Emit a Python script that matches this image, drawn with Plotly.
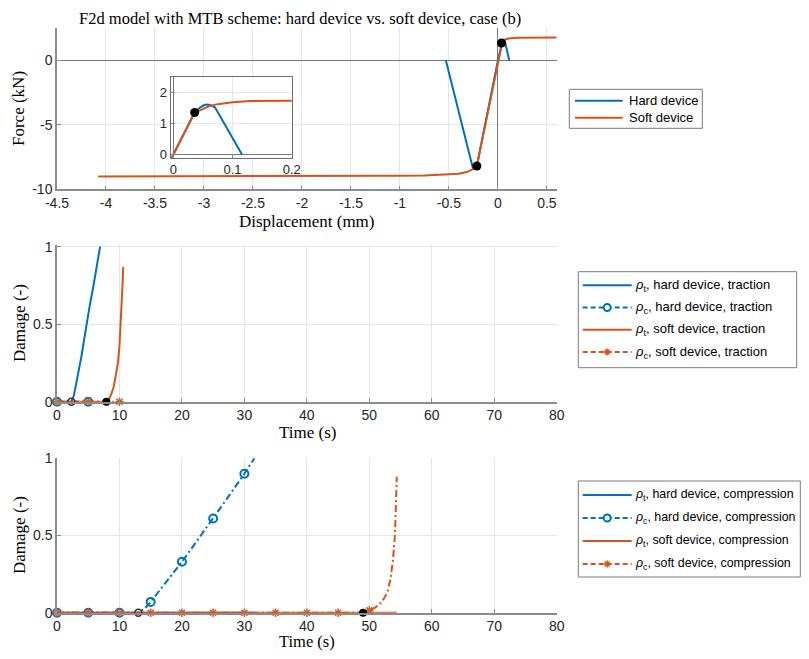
import plotly.graph_objects as go

# the page body has an 8px margin on every side: size the figure to fit inside it
OFF = 8
W, H = 809 - 2 * OFF, 659 - 2 * OFF
def px(x): return (x - OFF) / W
def py(y): return 1 - (y - OFF) / H

BLUE = '#0072BD'
ORANGE = '#D95319'
TXT = '#262626'
AX = '#8c8c8c'
GRID = '#e6e6e6'
SANS = 'Liberation Sans, Arial, sans-serif'
SERIF = 'Liberation Serif, Times New Roman, serif'
DASH = '7px,3px,2px,3px'

# ---------------- data: force vs displacement ----------------
disp_hard = [-0.531, -0.255, -0.24, -0.215, 0.0, 0.036, 0.045, 0.052, 0.058, 0.064, 0.0705, 0.116]
force_hard = [0.0, -8.37, -8.35, -8.19, 0.0, 1.36, 1.52, 1.60, 1.62, 1.59, 1.52, 0.0]

disp_soft = [-4.08, -3.0, -2.0, -1.5, -1.0, -0.75, -0.5, -0.4, -0.317, -0.28, -0.25, -0.215,
             0.0, 0.036, 0.045, 0.05, 0.06, 0.075, 0.1, 0.13, 0.2, 0.6]
force_soft = [-9.0, -9.0, -8.99, -8.98, -8.95, -8.92, -8.87, -8.8, -8.66, -8.55, -8.42, -8.19,
              0.0, 1.36, 1.43, 1.48, 1.56, 1.63, 1.69, 1.73, 1.76, 1.78]

onset_disp = [0.036, -0.215]
onset_force = [1.36, -8.19]

# ---------------- data: damage, traction ----------------
t_hard_tr = [0, 2.3, 2.7, 3.1, 3.5, 3.9, 4.3, 4.7, 5.2, 5.8, 6.3, 6.9]
rho_t_hard_tr = [0, 0, 0.04, 0.12, 0.2, 0.29, 0.39, 0.5, 0.61, 0.74, 0.86, 1.0]
tc_hard_tr = [0, 5, 6.9]
rho_c_hard_tr = [0, 0, 0]
t_soft_tr = [0, 7.9, 8.3, 8.7, 9.1, 9.4, 9.76, 10.0, 10.2, 10.4, 10.5, 10.6]
rho_t_soft_tr = [0, 0, 0.015, 0.05, 0.1, 0.16, 0.25, 0.36, 0.5, 0.65, 0.76, 0.87]
tc_soft_tr = [0, 5, 10, 10.6]
rho_c_soft_tr = [0, 0, 0, 0]
onset_hard_tr = (2.3, 0)
onset_soft_tr = (7.9, 0)

# ---------------- data: damage, compression ----------------
tt_hard_co = [0, 31.6]
rho_t_hard_co = [0, 0]
tc_hard_co = [0, 5, 10, 13, 14, 15, 17.5, 20, 22.5, 25, 27.5, 30, 31.6]
rho_c_hard_co = [0, 0, 0, 0, 0.025, 0.07, 0.2, 0.33, 0.47, 0.61, 0.755, 0.9, 1.0]
tt_soft_co = [0, 54.4]
rho_t_soft_co = [0, 0]
tc_soft_co = [0, 5, 10, 15, 20, 25, 30, 35, 40, 45, 49, 50, 51, 52, 52.9, 53.4, 53.8, 54.1, 54.3, 54.4]
rho_c_soft_co = [0, 0, 0, 0, 0, 0, 0, 0, 0, 0, 0, 0.015, 0.035, 0.07, 0.13, 0.22, 0.35, 0.5, 0.7, 0.88]
onset_hard_co = (13, 0)
onset_soft_co = (49, 0)

marker_times_hard = [0, 5, 10, 15, 20, 25, 30]
marker_times_soft = [0, 5, 10, 15, 20, 25, 30, 35, 40, 45, 50]

fig = go.Figure()

def line(x, y, color, xa, ya, dash='solid'):
    fig.add_trace(go.Scatter(x=x, y=y, mode='lines', xaxis=xa, yaxis=ya, showlegend=False,
                             line=dict(color=color, width=2, dash=dash), hoverinfo='skip'))

def marks(x, y, times, color, symbol, size, lw, xa, ya):
    sel = [i for i, t in enumerate(x) if t in times]
    fig.add_trace(go.Scatter(x=[x[i] for i in sel], y=[y[i] for i in sel], mode='markers',
                             xaxis=xa, yaxis=ya, showlegend=False, cliponaxis=False, hoverinfo='skip',
                             marker=dict(symbol=symbol, size=size, color=color, line=dict(color=color, width=lw))))

def onset(pt, filled, xa, ya):
    if filled:
        m = dict(symbol='circle', size=8, color='black', line=dict(width=0))
    else:
        m = dict(symbol='circle-open', size=7, color='#303030', line=dict(color='#303030', width=1.5))
    fig.add_trace(go.Scatter(x=[pt[0]], y=[pt[1]], mode='markers', xaxis=xa, yaxis=ya,
                             showlegend=False, cliponaxis=False, marker=m, hoverinfo='skip'))

# top plot and inset
for xa, ya in (('x', 'y'), ('x4', 'y4')):
    line(disp_hard, force_hard, BLUE, xa, ya)
    line(disp_soft, force_soft, ORANGE, xa, ya)
    fig.add_trace(go.Scatter(x=onset_disp, y=onset_force, mode='markers', xaxis=xa, yaxis=ya,
                             showlegend=False, hoverinfo='skip',
                             marker=dict(symbol='circle', size=9, color='black')))

# middle plot (traction)
line(t_hard_tr, rho_t_hard_tr, BLUE, 'x2', 'y2')
line(tc_hard_tr, rho_c_hard_tr, BLUE, 'x2', 'y2', DASH)
marks(tc_hard_tr, rho_c_hard_tr, marker_times_hard, BLUE, 'circle-open', 8, 2, 'x2', 'y2')
line(t_soft_tr, rho_t_soft_tr, ORANGE, 'x2', 'y2')
line(tc_soft_tr, rho_c_soft_tr, ORANGE, 'x2', 'y2', DASH)
marks(tc_soft_tr, rho_c_soft_tr, marker_times_soft, ORANGE, 'asterisk-open', 7, 1.5, 'x2', 'y2')
onset(onset_hard_tr, False, 'x2', 'y2')
onset(onset_soft_tr, True, 'x2', 'y2')

# bottom plot (compression)
line(tt_hard_co, rho_t_hard_co, BLUE, 'x3', 'y3')
line(tc_hard_co, rho_c_hard_co, BLUE, 'x3', 'y3', DASH)
marks(tc_hard_co, rho_c_hard_co, marker_times_hard, BLUE, 'circle-open', 8, 2, 'x3', 'y3')
line(tt_soft_co, rho_t_soft_co, ORANGE, 'x3', 'y3')
line(tc_soft_co, rho_c_soft_co, ORANGE, 'x3', 'y3', DASH)
marks(tc_soft_co, rho_c_soft_co, marker_times_soft, ORANGE, 'asterisk-open', 7, 1.5, 'x3', 'y3')
onset(onset_hard_co, False, 'x3', 'y3')
onset(onset_soft_co, True, 'x3', 'y3')

tickfont = dict(family=SANS, size=14, color=TXT)
common = dict(showline=True, linecolor=AX, linewidth=1.5, showgrid=True, gridcolor=GRID, gridwidth=1,
              ticks='inside', ticklen=4, tickcolor=AX, tickfont=tickfont, fixedrange=True,
              automargin=False)
inset_common = {**common, 'tickfont': dict(family=SANS, size=13, color=TXT), 'linecolor': '#6e6e6e',
                'linewidth': 1}

X0, X1 = px(57), px(556.7)
xt_top = [-4.5, -4, -3.5, -3, -2.5, -2, -1.5, -1, -0.5, 0, 0.5]
yt_top = [-10, -5, 0]
xt_time = [0, 10, 20, 30, 40, 50, 60, 70, 80]
yt_dmg = [0, 0.5, 1]

fig.update_layout(
    template='none',
    width=W, height=H, autosize=False, margin=dict(l=0, r=0, t=0, b=0, pad=0),
    showlegend=False,
    paper_bgcolor='white', plot_bgcolor='rgb(255,255,255)',
    xaxis=dict(domain=[X0, X1], range=[-4.5, 0.6], anchor='y', tickvals=xt_top,
               ticktext=[('%g' % v) for v in xt_top], zeroline=True, zerolinecolor='#7a7a7a',
               zerolinewidth=1, **common),
    yaxis=dict(domain=[py(189.3), py(28.3)], range=[-10, 2.5], anchor='x', tickvals=yt_top,
               ticktext=[('%g' % v) for v in yt_top], zeroline=True, zerolinecolor='#7a7a7a',
               zerolinewidth=1, **common),
    xaxis2=dict(domain=[X0, X1], range=[0, 80], anchor='y2', tickvals=xt_time,
                ticktext=[str(v) for v in xt_time], zeroline=False, **common),
    yaxis2=dict(domain=[py(401.7), py(245)], range=[0, 1.011], anchor='x2', tickvals=yt_dmg,
                ticktext=['0', '0.5', '1'], zeroline=False, **common),
    xaxis3=dict(domain=[X0, X1], range=[0, 80], anchor='y3', tickvals=xt_time,
                ticktext=[str(v) for v in xt_time], zeroline=False, **common),
    yaxis3=dict(domain=[py(612.7), py(457.5)], range=[0, 1.005], anchor='x3', tickvals=yt_dmg,
                ticktext=['0', '0.5', '1'], zeroline=False, **common),
    xaxis4=dict(domain=[px(170.7), px(291.7)], range=[-0.0045, 0.2], anchor='y4', tickvals=[0, 0.1, 0.2],
                ticktext=['0', '0.1', '0.2'], mirror=True, zeroline=True, zerolinecolor='#7a7a7a',
                **inset_common),
    yaxis4=dict(domain=[py(157.5), py(77.3)], range=[-0.1, 2.5], anchor='x4', tickvals=[0, 1, 2],
                ticktext=['0', '1', '2'], mirror=True, zeroline=True, zerolinecolor='#7a7a7a',
                **inset_common),
)

ann = []
def text(x, y, s, font, angle=0, xanchor='center'):
    ann.append(dict(x=px(x), y=py(y), xref='paper', yref='paper', text=s, showarrow=False,
                    xanchor=xanchor, yanchor='middle', textangle=angle, font=font))

title_font = dict(family=SERIF, size=16.5, color='black')
serif = dict(family=SERIF, size=17, color='black')
text(300, 18.5, 'F2d model with MTB scheme: hard device vs. soft device, case (b)', title_font)
text(307, 222, 'Displacement (mm)', serif)
text(19, 109, 'Force (kN)', serif, -90)
text(307, 432, 'Time (s)', serif)
text(19, 323, 'Damage (-)', serif, -90)
text(307, 641, 'Time (s)', dict(family=SERIF, size=16.5, color='black'))
text(19, 535, 'Damage (-)', serif, -90)

shapes = []

def box(x0, y0, x1, y1):
    shapes.append(dict(type='rect', xref='paper', yref='paper', x0=px(x0), x1=px(x1), y0=py(y1), y1=py(y0),
                       line=dict(color='#7a7a7a', width=1), fillcolor='white', layer='above'))

def entry(lx0, lx1, y, color, dash, mk, label, tx, fsize=13):
    shapes.append(dict(type='line', xref='paper', yref='paper', x0=px(lx0), x1=px(lx1), y0=py(y), y1=py(y),
                       line=dict(color=color, width=2, dash=dash), layer='above'))
    cx = (lx0 + lx1) / 2
    if mk == 'o':
        r = 3.5
        shapes.append(dict(type='circle', xref='paper', yref='paper', x0=px(cx - r), x1=px(cx + r),
                           y0=py(y + r), y1=py(y - r), line=dict(color=color, width=2),
                           fillcolor='white', layer='above'))
    elif mk == '*':
        r = 3.5
        for dx, dy in ((r, 0), (0, r), (r * 0.7, r * 0.7), (r * 0.7, -r * 0.7)):
            shapes.append(dict(type='line', xref='paper', yref='paper', x0=px(cx - dx), x1=px(cx + dx),
                               y0=py(y - dy), y1=py(y + dy), line=dict(color=color, width=1.5), layer='above'))
    text(tx, y, label, dict(family=SANS, size=fsize, color='black'), xanchor='left')

box(569.3, 89.3, 702.3, 128.3)
entry(575, 622.7, 100.7, BLUE, 'solid', None, 'Hard device', 626.5)
entry(575, 622.7, 117.7, ORANGE, 'solid', None, 'Soft device', 626.5)

rho = lambda s: '<i>ρ</i><sub>%s</sub>,' % s
box(578.3, 271.7, 796.7, 367.7)
rows_mid = [285.3, 307.5, 329.7, 352]
entry(582.7, 631.7, rows_mid[0], BLUE, 'solid', None, rho('t') + ' hard device, traction', 633)
entry(582.7, 631.7, rows_mid[1], BLUE, '5px,3px', 'o', rho('c') + ' hard device, traction', 633)
entry(582.7, 631.7, rows_mid[2], ORANGE, 'solid', None, rho('t') + ' soft device, traction', 633)
entry(582.7, 631.7, rows_mid[3], ORANGE, '5px,3px', '*', rho('c') + ' soft device, traction', 633)

box(578.3, 481, 800.3, 577)
rows_bot = [495, 518, 541, 564]
fb = 12.4
entry(582.7, 631.7, rows_bot[0], BLUE, 'solid', None, rho('t') + ' hard device, compression', 632.5, fb)
entry(582.7, 631.7, rows_bot[1], BLUE, '5px,3px', 'o', rho('c') + ' hard device, compression', 632.5, fb)
entry(582.7, 631.7, rows_bot[2], ORANGE, 'solid', None, rho('t') + ' soft device, compression', 632.5, fb)
entry(582.7, 631.7, rows_bot[3], ORANGE, '5px,3px', '*', rho('c') + ' soft device, compression', 632.5, fb)

fig.update_layout(annotations=ann, shapes=shapes)
fig.write_html('out.html')
